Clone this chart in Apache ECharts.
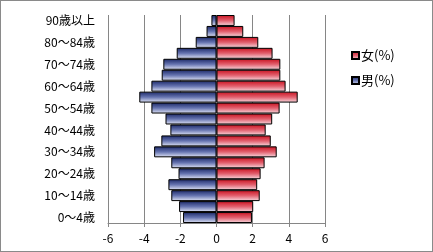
<!DOCTYPE html>
<html>
<head>
<meta charset="utf-8">
<script src="https://cdn.jsdelivr.net/npm/echarts@6/dist/echarts.min.js"></script>
<style>
html,body{margin:0;padding:0;background:#fff;}
#c{width:433px;height:252px;box-sizing:border-box;border:1px solid #8a8a8a;}
</style>
</head>
<body>
<div id="c"></div>
<script>
const categories = ['0～4歳','5～9歳','10～14歳','15～19歳','20～24歳','25～29歳','30～34歳','35～39歳','40～44歳','45～49歳','50～54歳','55～59歳','60～64歳','65～69歳','70～74歳','75～79歳','80～84歳','85～89歳','90歳以上'];
const male = [-1.85,-2.07,-2.5,-2.66,-2.1,-2.5,-3.45,-3.05,-2.55,-2.82,-3.6,-4.27,-3.6,-3.03,-2.94,-2.2,-1.15,-0.55,-0.28];
const female = [1.96,2.03,2.39,2.25,2.44,2.66,3.33,3.0,2.72,3.08,3.49,4.49,3.82,3.53,3.53,3.1,2.31,1.48,1.0];
const xTicks = {min:-6, max:6, interval:2};

const font = '"Noto Sans CJK JP", "Noto Sans", sans-serif';
const chart = echarts.init(document.getElementById('c'), null, {renderer:'canvas'});
const grad = (c1, c2, c3) => new echarts.graphic.LinearGradient(0,0,0,1,[{offset:0,color:c1},{offset:0.5,color:c2},{offset:1,color:c3}]);
chart.setOption({
  animation:false,
  textStyle:{fontFamily:font},
  grid:{left:107, right:107, top:14, bottom:28, containLabel:false},
  legend:{
    orient:'vertical', left:345, top:43, icon:'rect', itemWidth:7, itemHeight:7, itemGap:12,
    textStyle:{fontSize:13, color:'#000', fontFamily:font, padding:[0,0,0,-3]},
    data:['女(%)','男(%)']
  },
  xAxis:{
    type:'value', min:xTicks.min, max:xTicks.max, interval:xTicks.interval,
    axisLine:{show:true, lineStyle:{color:'#868686'}},
    axisTick:{show:true, length:4, lineStyle:{color:'#868686'}},
    axisLabel:{color:'#000', fontSize:12, margin:9, fontFamily:font},
    splitLine:{show:true, lineStyle:{color:'#868686', width:1}}
  },
  yAxis:{
    type:'category', data:categories,
    axisLine:{show:false, onZero:false},
    axisTick:{show:false},
    axisLabel:{interval:1, color:'#000', fontSize:12, margin:13, fontFamily:font},
    splitLine:{show:false}
  },
  series:[
    {name:'女(%)', type:'bar', data:female, barWidth:'100%', barGap:'-100%',
     itemStyle:{color:grad('#c8101e','#e2606e','#f8dce2'), borderColor:'#000', borderWidth:1}},
    {name:'男(%)', type:'bar', data:male, barWidth:'100%', barGap:'-100%',
     itemStyle:{color:grad('#1a2766','#6674b0','#e4e8f8'), borderColor:'#000', borderWidth:1}}
  ]
});
</script>
</body>
</html>
